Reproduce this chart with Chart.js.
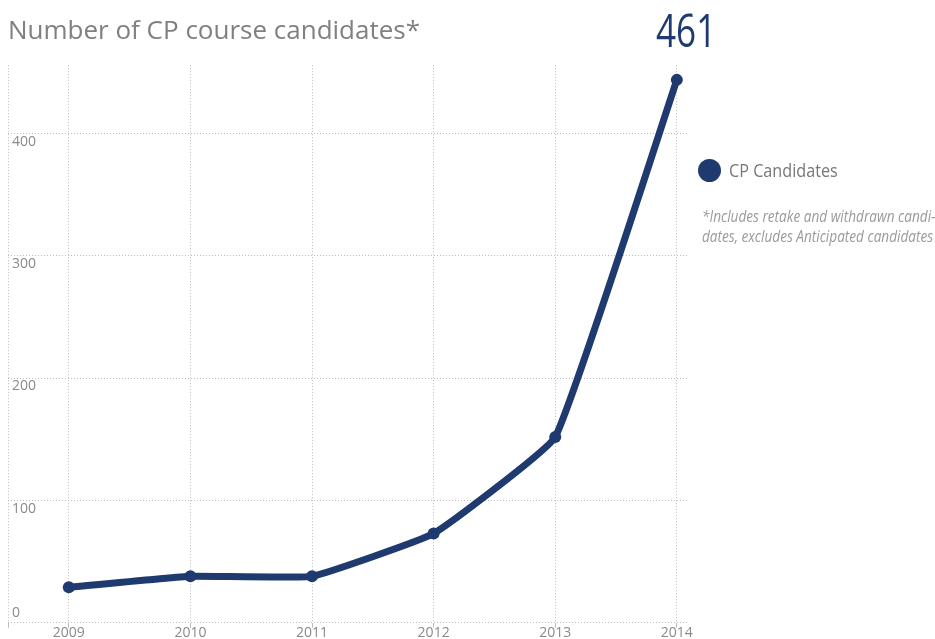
<!DOCTYPE html>
<html>
<head>
<meta charset="utf-8">
<script src="https://cdn.jsdelivr.net/npm/chart.js@4.4.1/dist/chart.umd.min.js"></script>
<style>
  html, body { margin: 0; padding: 0; background: #ffffff; }
  #wrap { position: relative; width: 935px; height: 639px; overflow: hidden; }
  #c { position: absolute; left: 0; top: 0; }
  .ov { position: absolute; font-family: "Open Sans", sans-serif; white-space: nowrap; transform-origin: left top; }
  #big { left: 656px; top: 7px; font-size: 45px; line-height: 45px; color: #1f3a6e; transform: scaleX(0.78); }
  #legDot { position: absolute; left: 698px; top: 159px; width: 23px; height: 23px; border-radius: 50%; background: #1f3a6e; }
  #legTxt { left: 729px; top: 161px; font-size: 18px; line-height: 18px; color: #777777; transform: scaleX(0.9); }
  #note { left: 702px; top: 206px; font-size: 16px; line-height: 20px; font-style: italic; color: #9a9a9a; transform: scaleX(0.85); }
</style>
</head>
<body>
<div id="wrap">
  <canvas id="c" width="935" height="639"></canvas>
  <div class="ov" id="big"></div>
  <div id="legDot"></div>
  <div class="ov" id="legTxt"></div>
  <div class="ov" id="note"></div>
</div>
<script>
// ---- data ----
const years = [2009, 2010, 2011, 2012, 2013, 2014];
const candidates = [29, 38, 38, 73, 152, 444];
const yTickValues = [100, 200, 300, 400];
const yZeroTick = [0];
const seriesLabel = 'CP Candidates';
const titleText = 'Number of CP course candidates*';
const highlightText = '461';
const noteLines = ['*Includes retake and withdrawn candi-', 'dates, excludes Anticipated candidates'];

// ---- styles ----
const navy = '#1f3a6e';
const gridColor = '#bdbdbd';
const tickColor = '#8a8a8a';
const fontFamily = '"Open Sans", sans-serif';

document.getElementById('big').textContent = highlightText;
document.getElementById('legTxt').textContent = seriesLabel;
document.getElementById('note').innerHTML = noteLines.join('<br>');

const points = years.map((yr, i) => ({ x: yr, y: candidates[i] }));

new Chart(document.getElementById('c'), {
  type: 'line',
  data: {
    datasets: [{
      label: seriesLabel,
      data: points,
      borderColor: navy,
      backgroundColor: navy,
      borderWidth: 7,
      pointRadius: 6,
      pointBorderWidth: 0,
      pointBackgroundColor: navy,
      tension: 0.1,
      fill: false,
      clip: false,
      yAxisID: 'y'
    }]
  },
  options: {
    responsive: false,
    animation: false,
    devicePixelRatio: 1,
    layout: { padding: { left: 8, right: 246, top: 0, bottom: 0 } },
    plugins: {
      legend: { display: false },
      tooltip: { enabled: false },
      title: {
        display: true,
        text: titleText,
        align: 'start',
        color: '#808080',
        font: { family: fontFamily, size: 26, weight: 'normal', lineHeight: 1.2 },
        padding: { top: 16, bottom: 18 }
      }
    },
    scales: {
      x: {
        type: 'linear',
        min: 2008.5,
        max: 2014.1,
        afterBuildTicks: (scale) => {
          scale.ticks = [{ value: 2008.5 }].concat(years.map(v => ({ value: v })));
        },
        ticks: {
          autoSkip: false,
          maxRotation: 0,
          padding: 0,
          color: tickColor,
          font: { family: fontFamily, size: 14, lineHeight: 0.8 },
          callback: (v) => years.includes(v) ? String(v) : ''
        },
        grid: { color: gridColor, lineWidth: 1, drawTicks: true, tickLength: 5 },
        border: { display: false, dash: [1, 2] }
      },
      y: {
        position: 'left',
        min: 0,
        max: 456,
        afterBuildTicks: (scale) => {
          scale.ticks = yZeroTick.concat(yTickValues).map(v => ({ value: v }));
        },
        afterFit: (scale) => { scale.width = 0; },
        ticks: {
          mirror: true,
          padding: 4,
          labelOffset: 8,
          color: tickColor,
          font: { family: fontFamily, size: 14 },
          callback: (v) => v === 0 ? '' : String(v)
        },
        grid: { color: gridColor, lineWidth: 1, drawTicks: false },
        border: { display: false, dash: [1, 2] }
      },
      yZero: {
        position: 'left',
        min: 0,
        max: 456,
        afterBuildTicks: (scale) => {
          scale.ticks = yZeroTick.map(v => ({ value: v }));
        },
        afterFit: (scale) => { scale.width = 0; },
        ticks: {
          mirror: true,
          padding: 4,
          labelOffset: -10,
          color: tickColor,
          font: { family: fontFamily, size: 14 }
        },
        grid: { display: false, drawTicks: false },
        border: { display: false }
      }
    }
  }
});
</script>
</body>
</html>
